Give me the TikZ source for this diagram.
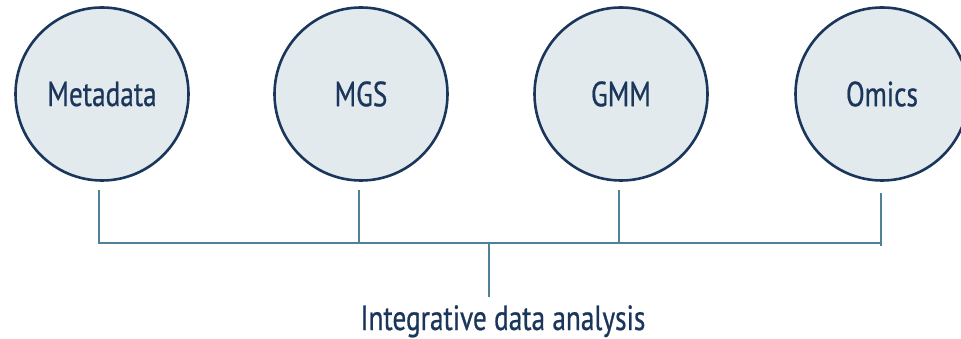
\documentclass[tikz,border=0pt]{standalone}
\usepackage{fontspec}
\setmainfont{PT Sans}[FakeStretch=0.78,FakeBold=0.6]
\definecolor{navy}{HTML}{1B365B}
\definecolor{discfill}{HTML}{E3EAEE}
\definecolor{linkblue}{HTML}{4F8299}
\begin{document}
\begin{tikzpicture}[x=1pt,y=-1pt,
  labelfont/.style={text=navy,font=\fontsize{35}{40}\selectfont},
  source/.style={circle,draw=navy,fill=discfill,line width=2.6pt,minimum size=173pt,inner sep=0pt,labelfont},
  link/.style={draw=linkblue,line width=1.8pt}]
\useasboundingbox (0,0) rectangle (961,339);
\begin{scope}
\clip (0,0) rectangle (961,339);
\node[source] (meta) at (102,94) {Metadata};
\node[source] (mgs)  at (361,94) {MGS};
\node[source] (gmm)  at (621,94) {GMM};
\node[source] (omics) at (882,94) {Omics};
\end{scope}
% bracket joining the four sources
\coordinate (hm) at (99,243);
\coordinate (hs) at (359,243);
\coordinate (hg) at (619,243);
\coordinate (ho) at (881,243);
\coordinate (hc) at (489,243);
\node[labelfont,anchor=base] (ida) at (503,330) {Integrative data analysis};
\draw[link] (99,190) -- (hm) -- (ho);
\draw[link] (359,190) -- (hs);
\draw[link] (619,190) -- (hg);
\draw[link] (881,193) -- (881,246);
\draw[link] (hc) -- (489,297);
\end{tikzpicture}
\end{document}
